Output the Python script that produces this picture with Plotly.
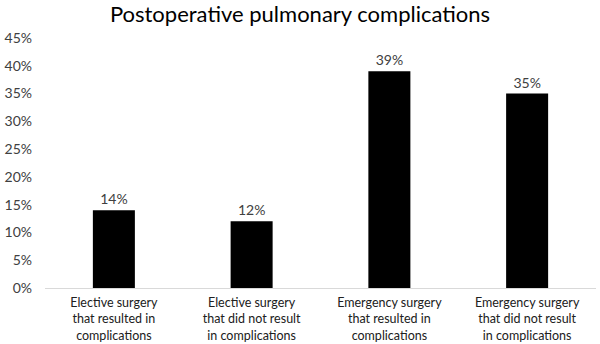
import plotly.graph_objects as go

categories = [
    "Elective surgery<br>that resulted in<br>complications",
    "Elective surgery<br>that did not result<br>in complications",
    "Emergency surgery<br>that resulted in<br>complications",
    "Emergency surgery<br>that did not result<br>in complications",
]
values = [0.14, 0.12, 0.39, 0.35]
tick_vals = [0, 0.05, 0.10, 0.15, 0.20, 0.25, 0.30, 0.35, 0.40, 0.45]
tick_text = ["0%", "5%", "10%", "15%", "20%", "25%", "30%", "35%", "40%", "45%"]
labels = [f"{round(v*100)}%" for v in values]

FONT = "Lato"

fig = go.Figure(go.Bar(
    x=categories, y=values,
    marker=dict(color="black", line=dict(width=0)),
    text=labels, textposition="outside", cliponaxis=False,
    textfont=dict(family=FONT, size=14, color="#404040"),
    width=0.305,
))

fig.update_layout(
    width=600, height=344,
    margin=dict(l=45, r=4, t=38, b=56),
    paper_bgcolor="white", plot_bgcolor="white",
    showlegend=False,
    title=dict(text="Postoperative pulmonary complications", x=0.5, xanchor="center",
               y=0.958, yanchor="middle",
               font=dict(family=FONT, size=22, color="black")),
    font=dict(family=FONT, size=13, color="#404040"),
    xaxis=dict(showline=True, linecolor="#d9d9d9", linewidth=1, ticks="",
               automargin=False, ticklabelstandoff=3,
               tickfont=dict(family=FONT, size=12.5, color="#202020")),
    yaxis=dict(range=[0, 0.45], tickvals=tick_vals, ticktext=tick_text,
               showgrid=False, zeroline=False, showline=False, ticks="",
               automargin=False, ticklabelstandoff=12,
               tickfont=dict(family=FONT, size=14, color="#404040")),
)

fig.write_html("out.html")
